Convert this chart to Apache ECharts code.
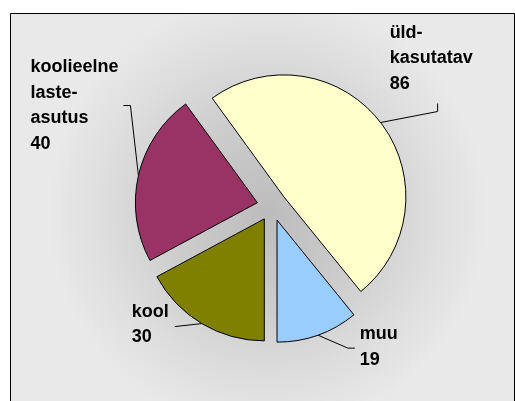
<!DOCTYPE html>
<html><head><meta charset="utf-8">
<script src="https://cdn.jsdelivr.net/npm/echarts@6/dist/echarts.min.js"></script>
<style>html,body{margin:0;padding:0;background:#fff}#c{width:515px;height:401px}</style>
</head><body><div id="c"></div>
<script>
const categories = ['üld-\nkasutatav', 'muu', 'kool', 'koolieelne\nlaste-\nasutus'];
const values = [86, 19, 30, 40];
const colors = ['#FFFFCC', '#99CCFF', '#808000', '#993366'];

const PIE_CENTER = [272, 206];
const PIE_RADIUS = 122;
const EXPLODE = 15;

// leader-line shape per label (relative offsets): bend from arc point, end from bend, text left-middle from line end
const leader = [
  {bend: [57, -11], end: [0, -8], text: [-48, -45]},
  {bend: [30, 13], end: [7, 0], text: [5, -1]},
  {bend: [-27, 3], end: [0, 0], text: [-43, -2]},
  {bend: [-8, -70], end: [-7, 0], text: [-93, 0]}
];

const chart = echarts.init(document.getElementById('c'), null, {renderer: 'canvas'});

const sliceData = categories.map((n, i) => ({
  name: n, value: values[i], selected: true,
  itemStyle: {color: colors[i]},
  select: {itemStyle: {color: colors[i], borderColor: '#000', borderWidth: 1}}
}));
const labelData = categories.map((n, i) => ({name: n, value: values[i]}));

chart.setOption({
  animation: false,
  backgroundColor: '#fff',
  graphic: [{
    type: 'rect', z: -10, silent: true,
    shape: {x: 10.5, y: 13.5, width: 504, height: 400},
    style: {
      fill: {type: 'radial', x: 0.51, y: 0.5, r: 0.55, colorStops: [
        {offset: 0, color: '#bcbcbc'},
        {offset: 0.45, color: '#cdcdcd'},
        {offset: 0.75, color: '#dedede'},
        {offset: 1, color: '#e9e9e9'}
      ]},
      stroke: '#000', lineWidth: 1
    }
  }],
  series: [{
    type: 'pie',
    center: PIE_CENTER,
    radius: PIE_RADIUS,
    startAngle: 126,
    clockwise: true,
    selectedMode: 'multiple',
    selectedOffset: EXPLODE,
    silent: true,
    itemStyle: {borderColor: '#000', borderWidth: 1},
    label: {show: false},
    labelLine: {show: false},
    data: sliceData
  }, {
    type: 'pie',
    center: PIE_CENTER,
    radius: PIE_RADIUS,
    startAngle: 126,
    clockwise: true,
    silent: true,
    avoidLabelOverlap: false,
    itemStyle: {color: 'rgba(0,0,0,0)', borderWidth: 0},
    label: {
      show: true, position: 'outside',
      formatter: p => p.name + '\n' + p.value,
      color: '#000', fontFamily: 'Liberation Sans', fontWeight: 'bold',
      fontSize: 18, lineHeight: 25.5
    },
    labelLine: {show: true, length: 10, length2: 10, smooth: false,
      lineStyle: {color: '#000', width: 1}},
    labelLayout: function (p) {
      const L = leader[p.dataIndex];
      const a = p.labelLinePoints[0];
      const vx = a[0] - PIE_CENTER[0], vy = a[1] - PIE_CENTER[1];
      const len = Math.hypot(vx, vy) || 1;
      const p0 = [a[0] + EXPLODE * vx / len, a[1] + EXPLODE * vy / len];
      const b = [p0[0] + L.bend[0], p0[1] + L.bend[1]];
      const e = [b[0] + L.end[0], b[1] + L.end[1]];
      return {
        x: e[0] + L.text[0], y: e[1] + L.text[1],
        align: 'left', verticalAlign: 'middle',
        labelLinePoints: [p0, b, e]
      };
    },
    data: labelData
  }]
});
</script></body></html>
